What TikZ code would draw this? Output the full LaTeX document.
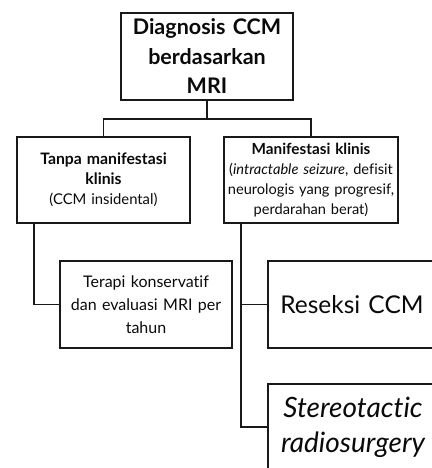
\documentclass[tikz,border=0pt]{standalone}
\usepackage{fontspec}
\setmainfont{Lato}[Ligatures=NoCommon]
\definecolor{c1boxLine}{RGB}{25,25,25}
\definecolor{c1text}{RGB}{10,10,10}

\begin{document}
\begin{tikzpicture}[x=1pt, y=-1pt, font=\normalsize,
    box/.style={draw=c1boxLine, line width=2pt, align=center, inner sep=0pt,
                text=c1text, minimum height=86pt},
    link/.style={draw=c1boxLine, line width=1.6pt}]
\useasboundingbox (0,0) rectangle (431,468);
%% ── Root: diagnosis ──────────────────────────────────────────────────────
\node[box, minimum width=172pt, minimum height=87pt, text width=168pt,
      font=\fontsize{21.5}{29.5}\selectfont\bfseries]
    (diag) at (207,56.5) {Diagnosis CCM\\berdasarkan\\MRI};
%% ── Second level ─────────────────────────────────────────────────────────
\node[box, minimum width=173pt, text width=169pt, font=\fontsize{14.8}{20}\selectfont]
    (tanpa) at (103.5,180) {{\fontsize{15.8}{20}\selectfont\bfseries Tanpa manifestasi\\klinis}\\(CCM insidental)};
\node[box, minimum width=174pt, text width=172pt, font=\fontsize{14.6}{20}\selectfont]
    (manif) at (311,180) {{\fontsize{15.3}{20}\selectfont\bfseries Manifestasi klinis}\\(\textit{intractable seizure}, defisit\\neurologis yang progresif,\\perdarahan berat)};
%% ── Treatment boxes ──────────────────────────────────────────────────────
\node[box, minimum width=172pt, minimum height=87pt, text width=168pt,
      font=\fontsize{16}{23}\selectfont]
    (terapi) at (146,304.5) {Terapi konservatif\\dan evaluasi MRI per\\tahun};
\node[box, minimum width=168pt, minimum height=87pt, text width=164pt,
      font=\fontsize{24.5}{30}\selectfont]
    (reseksi) at (352,304.5) {Reseksi CCM};
\node[box, minimum width=170pt, text width=166pt,
      font=\fontsize{28}{35}\selectfont\itshape]
    (stereo) at (353,427) {Stereotactic\\radiosurgery};
%% ── Connectors ───────────────────────────────────────────────────────────
\coordinate (split) at ([yshift=-18pt]diag.south);
\draw[link] (diag.south) -- (split);
\draw[link] (split) -| (tanpa.north);
\draw[link] (split) -| (manif.north);
\draw[link] ([xshift=18pt]tanpa.south west) |- (terapi.west);
\draw[link] ([xshift=18pt]manif.south west) |- (reseksi.west);
\draw[link] ([xshift=18pt]manif.south west) |- (stereo.west);
\end{tikzpicture}
\end{document}
